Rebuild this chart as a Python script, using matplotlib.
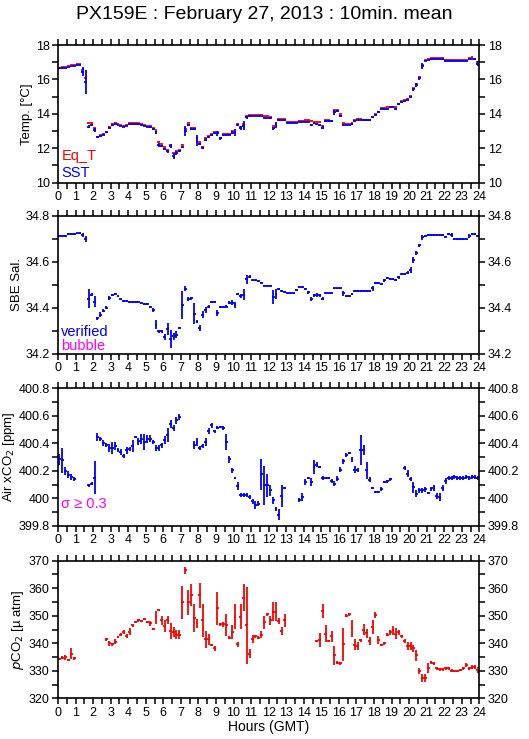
import numpy as np
import matplotlib
matplotlib.use("Agg")
import matplotlib.pyplot as plt
from matplotlib.ticker import MultipleLocator

plt.rcParams['font.family'] = ['Liberation Sans', 'DejaVu Sans']

nan = np.nan

# 10-minute slots over the day (144 slots)
hours = np.arange(144) / 6 + 1 / 12

sst = [
    16.64, 16.64, 16.64, 16.72, 16.78, 16.80,
    16.84, 16.84, 16.45, 15.85, 13.25, 13.35,
    13.06, 12.63, 12.70, 12.80, 12.92, 13.20,
    13.35, 13.40, 13.35, 13.30, 13.25, 13.30,
    13.40, 13.40, 13.40, 13.40, 13.35, 13.30,
    13.25, 13.22, 13.10, 12.92, 12.20, 12.13,
    11.97, 11.82, 12.15, 11.55, 11.72, 11.82,
    12.05, 13.00, 13.35, 13.10, 13.10, 12.45,
    12.25, 12.00, 12.50, 12.63, 12.75, 12.86,
    12.86, 12.57, 12.77, 12.77, 12.80, 12.90,
    12.93, 13.37, 13.18, 13.32, 13.80, 13.87,
    13.87, 13.87, 13.87, 13.87, 13.77, 13.77,
    13.75, 13.15, 13.35, 13.64, 13.64, 13.64,
    13.48, 13.48, 13.48, 13.48, 13.54, 13.54,
    13.54, 13.54, 13.35, 13.45, 13.40, 13.35,
    13.20, 13.58, 13.58, 13.58, 14.10, 14.15,
    13.87, 13.35, 13.35, 13.35, 13.40, 13.58,
    13.64, 13.64, 13.62, 13.62, 13.62, 13.80,
    13.93, 14.12, 14.26, 14.26, 14.30, 14.38,
    14.38, 14.30, 14.57, 14.68, 14.76, 14.80,
    14.96, 15.42, 15.67, 16.06, 16.78, 17.09,
    17.12, 17.17, 17.17, 17.17, 17.17, 17.17,
    17.09, 17.09, 17.09, 17.09, 17.09, 17.09,
    17.09, 17.09, 17.19, 17.19, 17.17, 16.92,
]
sst_sd = [
    .02, .02, .02, .02, .02, .02,
    .02, .02, .25, .70, .10, .05,
    .12, .03, .03, .03, .03, .03,
    .03, .02, .02, .02, .02, .02,
    .02, .02, .02, .02, .02, .02,
    .02, .02, .04, .08, .12, .05,
    .06, .08, .12, .20, .12, .06,
    .05, .30, .08, .04, .04, .30,
    .06, .05, .08, .05, .04, .04,
    .12, .08, .03, .03, .04, .08,
    .20, .05, .10, .28, .10, .04,
    .02, .02, .02, .02, .04, .04,
    .04, .06, .15, .03, .03, .03,
    .02, .02, .02, .02, .02, .02,
    .02, .02, .05, .03, .05, .03,
    .08, .03, .03, .04, .15, .06,
    .08, .06, .02, .02, .02, .03,
    .03, .02, .02, .02, .02, .05,
    .04, .03, .03, .02, .02, .02,
    .02, .05, .04, .04, .04, .04,
    .06, .08, .10, .10, .20, .04,
    .02, .02, .02, .02, .02, .02,
    .02, .02, .02, .02, .02, .02,
    .02, .02, .02, .02, .03, .15,
]
eq_t = [
    16.68, 16.70, 16.72, 16.78, 16.82, 16.85,
    16.88, 16.88, 16.55, 16.10, 13.45, 13.45,
    13.15, 12.68, 12.75, 12.85, 12.97, 13.25,
    13.42, 13.48, 13.42, 13.36, 13.32, 13.38,
    13.45, 13.45, 13.45, 13.45, 13.40, 13.35,
    13.30, 13.30, 13.15, 13.05, 12.38, 12.22,
    12.05, 11.90, 12.20, 11.70, 11.85, 11.90,
    12.20, 13.10, 13.48, 13.20, 13.20, 12.60,
    12.35, 12.10, 12.58, 12.70, 12.82, 12.95,
    12.95, 12.62, 12.85, 12.85, 12.85, 13.00,
    13.02, 13.42, 13.25, 13.40, 13.88, 13.92,
    13.92, 13.92, 13.92, 13.92, 13.85, 13.85,
    13.82, 13.30, 13.40, 13.68, 13.68, 13.68,
    13.55, 13.55, 13.52, 13.52, 13.60, 13.60,
    13.62, 13.62, 13.60, 13.50, 13.55, 13.50,
    13.28, 13.62, 13.62, 13.58, 14.20, 14.22,
    14.00, 13.45, 13.40, 13.40, 13.48, 13.65,
    13.72, 13.72, 13.65, 13.65, 13.65, 13.82,
    14.00, 14.12, 14.32, 14.35, 14.42, 14.42,
    14.42, 14.38, 14.60, 14.72, 14.80, 14.88,
    15.02, 15.48, 15.72, 16.12, 16.85, 17.12,
    17.18, 17.22, 17.22, 17.22, 17.22, 17.22,
    17.15, 17.15, 17.10, 17.10, 17.10, 17.10,
    17.10, 17.10, 17.22, 17.28, 17.20, 17.00,
]
eq_t_sd = [.02] * 8 + [.10, .10, .05] + [.02] * 27 + [.05] + [.02] * 4 + [.05, .04, .02, .02, .08] + [.02] * 96

sal = [
    34.713, 34.713, 34.713, 34.722, 34.722, 34.722,
    34.725, 34.725, 34.717, 34.700, 34.440, 34.457,
    34.427, 34.355, 34.370, 34.387, 34.400, 34.442,
    34.457, 34.460, 34.450, 34.437, 34.430, 34.430,
    34.425, 34.425, 34.425, 34.427, 34.420, 34.416,
    34.416, 34.403, 34.390, 34.326, 34.297, 34.297,
    34.272, 34.308, 34.265, 34.275, 34.283, 34.312,
    34.413, 34.483, 34.437, 34.442, 34.374, 34.340,
    34.312, 34.370, 34.390, 34.405, 34.427, 34.427,
    34.377, 34.405, 34.405, 34.405, 34.423, 34.423,
    34.413, 34.460, 34.452, 34.457, 34.525, 34.536,
    34.519, 34.519, 34.517, 34.510, 34.497, 34.497,
    34.497, 34.446, 34.460, 34.483, 34.475, 34.470,
    34.463, 34.463, 34.463, 34.478, 34.490, 34.490,
    34.483, 34.468, 34.437, 34.455, 34.455, 34.455,
    34.440, 34.463, 34.463, 34.463, 34.485, 34.485,
    34.485, 34.463, 34.452, 34.452, 34.460, 34.474,
    34.474, 34.474, 34.474, 34.474, 34.474, 34.485,
    34.507, 34.507, 34.504, 34.520, 34.530, 34.525,
    34.525, 34.520, 34.533, 34.548, 34.548, 34.553,
    34.565, 34.609, 34.638, 34.672, 34.707, 34.714,
    34.717, 34.717, 34.717, 34.717, 34.717, 34.717,
    34.710, 34.722, 34.716, 34.699, 34.699, 34.699,
    34.699, 34.699, 34.713, 34.720, 34.720, 34.713,
]
sal_sd = [
    .003, .003, .003, .003, .003, .003,
    .003, .003, .008, .012, .040, .006,
    .025, .006, .012, .006, .006, .010,
    .005, .004, .003, .003, .003, .003,
    .003, .003, .003, .003, .003, .003,
    .003, .005, .008, .020, .005, .005,
    .012, .025, .040, .015, .015, .006,
    .060, .010, .008, .006, .045, .006,
    .012, .015, .012, .006, .004, .004,
    .012, .004, .004, .006, .006, .012,
    .012, .006, .010, .025, .020, .005,
    .003, .003, .003, .003, .003, .003,
    .003, .030, .020, .005, .004, .004,
    .003, .003, .003, .006, .003, .003,
    .004, .006, .008, .006, .010, .006,
    .008, .003, .003, .003, .003, .003,
    .003, .010, .003, .003, .003, .003,
    .003, .003, .003, .003, .003, .010,
    .004, .004, .004, .006, .004, .004,
    .004, .004, .006, .004, .004, .006,
    .012, .012, .010, .006, .010, .004,
    .003, .003, .003, .003, .003, .003,
    .003, .005, .008, .003, .003, .003,
    .003, .003, .008, .004, .004, .006,
]

air_co2 = [
    400.284, 400.277, 400.197, 400.173, 400.156, 400.144,
    nan, nan, nan, nan, 400.095, 400.108,
    400.151, 400.446, 400.430, 400.403, 400.386, 400.367,
    400.367, 400.379, 400.354, 400.338, 400.308, 400.350,
    400.357, 400.379, 400.446, 400.415, 400.434, 400.410,
    400.434, 400.434, 400.410, 400.367, 400.367, 400.386,
    400.427, 400.459, 400.543, 400.512, 400.568, 400.592,
    nan, nan, nan, nan, 400.386, 400.410,
    400.369, 400.380, 400.410, 400.490, 400.531, 400.488,
    400.514, 400.519, 400.514, 400.410, 400.284, 400.204,
    400.149, 400.090, 400.023, 400.023, 400.023, 400.010,
    399.979, 399.950, 399.962, 400.175, 400.095, 400.095,
    400.059, 399.986, 399.921, 399.882, 400.018, 400.076,
    nan, nan, nan, nan, 399.991, 400.010,
    400.120, 400.149, 400.120, 400.229, 400.246, 400.229,
    400.151, 400.149, 400.149, 400.124, 400.108, 400.144,
    400.209, 400.270, 400.313, 400.330, 400.284, 400.209,
    400.204, 400.354, 400.354, 400.204, 400.137, 400.076,
    400.047, 400.047, 400.066, 400.120, 400.124, 400.139,
    nan, nan, nan, nan, 400.221, 400.180,
    400.139, 400.083, 400.035, 400.059, 400.059, 400.066,
    400.040, 400.066, 400.076, 400.018, 400.010, 400.076,
    400.127, 400.149, 400.149, 400.155, 400.149, 400.149,
    400.150, 400.155, 400.150, 400.158, 400.155, 400.150,
]
air_sd = [
    .040, .090, .030, .025, .020, .015,
    nan, nan, nan, nan, .010, .010,
    .120, .030, .015, .025, .015, .030,
    .045, .030, .015, .020, .015, .025,
    .015, .045, .010, .025, .035, .060,
    .030, .025, .015, .020, .020, .020,
    .030, .050, .030, .020, .025, .020,
    nan, nan, nan, nan, .030, .030,
    .015, .015, .030, .025, .020, .010,
    .010, .010, .015, .060, .025, .020,
    .010, .030, .015, .015, .015, .015,
    .020, .030, .020, .110, .140, .085,
    .040, .025, .015, .040, .080, .010,
    nan, nan, nan, nan, .015, .030,
    .020, .010, .030, .050, .020, .010,
    .015, .010, .010, .015, .020, .020,
    .020, .020, .015, .010, .020, .025,
    .015, .110, .035, .060, .020, .010,
    .010, .010, .015, .010, .010, .010,
    nan, nan, nan, nan, .015, .025,
    .015, .040, .025, .020, .020, .020,
    .010, .015, .020, .025, .030, .020,
    .020, .015, .015, .015, .015, .015,
    .015, .015, .015, .015, .015, .015,
]

pco2 = [
    334.2, 334.8, 334.9, 333.9, 336.2, 334.5,
    nan, nan, nan, nan, nan, nan,
    nan, nan, nan, nan, 341.4, 340.0,
    339.6, 340.6, 342.2, 343.2, 344.2, 342.6,
    344.2, 346.5, 347.8, 348.3, 348.1, 348.7,
    347.6, 347.2, 345.2, 349.4, 352.1, 348.3,
    346.4, 348.5, 344.5, 344.0, 343.2, 343.2,
    354.9, 366.5, 354.9, 357.4, 349.1, 347.2,
    357.4, 348.3, 341.4, 341.4, 339.4, 338.2,
    352.7, 346.9, 346.9, 346.6, 342.0, 344.0,
    349.7, 339.6, 349.7, 356.6, 346.6, 336.3,
    341.5, 342.5, 342.0, 343.2, 347.6, 350.5,
    348.3, 351.5, 351.5, 348.1, 344.5, 348.3,
    nan, nan, nan, nan, nan, nan,
    nan, nan, nan, nan, 340.8, 341.1,
    351.8, 343.5, 340.8, 342.5, 335.7, 333.0,
    332.7, 339.6, 350.0, 350.6, 345.4, 339.4,
    339.1, 341.1, 344.9, 343.6, 340.8, 345.8,
    350.3, 341.1, 339.4, 340.0, 343.2, 344.0,
    344.7, 343.4, 344.0, 342.5, 340.8, 339.1,
    339.1, 338.2, 335.7, 330.0, 327.3, 327.5,
    330.9, 333.1, 332.7, 330.9, 330.5, 330.5,
    330.9, 330.9, 330.0, 330.0, 330.0, 330.3,
    330.9, 332.1, 330.9, 331.3, 331.3, 330.3,
]
pco2_sd = [
    0.4, 0.5, 0.8, 0.4, 2.0, 0.5,
    nan, nan, nan, nan, nan, nan,
    nan, nan, nan, nan, 0.5, 1.0,
    0.6, 0.8, 0.4, 0.4, 0.8, 0.8,
    1.2, 0.6, 0.4, 0.4, 0.4, 0.4,
    0.4, 0.8, 0.5, 2.5, 0.5, 1.8,
    2.2, 1.5, 3.0, 1.8, 1.5, 1.5,
    6.0, 1.2, 4.5, 4.0, 5.0, 1.5,
    4.5, 6.0, 3.0, 2.0, 0.5, 1.0,
    6.0, 0.5, 1.0, 4.0, 0.5, 2.5,
    4.5, 1.0, 4.5, 5.0, 14.0, 1.8,
    1.5, 0.5, 0.5, 1.2, 2.5, 0.5,
    1.5, 3.5, 3.5, 1.0, 1.5, 2.5,
    nan, nan, nan, nan, nan, nan,
    nan, nan, nan, nan, 0.5, 2.5,
    2.5, 3.0, 0.5, 2.0, 3.5, 0.5,
    0.5, 6.0, 0.5, 0.5, 3.0, 2.0,
    1.5, 0.5, 2.0, 1.5, 1.5, 2.5,
    1.0, 1.5, 0.5, 0.5, 0.5, 1.0,
    1.5, 2.0, 1.0, 0.6, 0.6, 1.5,
    1.5, 1.2, 2.0, 1.2, 1.5, 1.5,
    1.8, 0.5, 0.5, 0.5, 0.4, 0.4,
    0.6, 0.5, 0.5, 0.4, 0.4, 0.4,
    0.5, 0.6, 0.6, 0.8, 0.8, 1.2,
]

BLUE = '#0000ff'
RED = '#ff0000'
MAGENTA = '#ff00ff'


def draw(ax, y, err, color):
    y = np.asarray(y, dtype=float)
    err = np.asarray(err, dtype=float)
    ok = ~np.isnan(y)
    ax.errorbar(hours[ok], y[ok], xerr=1 / 12, yerr=err[ok], fmt='none',
                ecolor=color, elinewidth=1.3, capsize=0)


def style(ax, ylim, major, minor, fmt):
    ax.set_xlim(0, 24)
    ax.set_ylim(*ylim)
    ax.xaxis.set_major_locator(MultipleLocator(1))
    ax.xaxis.set_minor_locator(MultipleLocator(0.5))
    ax.yaxis.set_major_locator(MultipleLocator(major))
    ax.yaxis.set_minor_locator(MultipleLocator(minor))
    ax.yaxis.set_major_formatter(fmt)
    ax.tick_params(which='both', direction='out', top=True, right=True,
                   labelright=True, length=4, width=1.1, labelsize=9, pad=2)
    for s in ax.spines.values():
        s.set_linewidth(1.2)


fig = plt.figure(figsize=(5.29, 7.39), dpi=100)
W = 421.3 / 529
H = 137.7 / 739
L = 58 / 529
tops = [45, 216, 388.3, 560.7]
axes = [fig.add_axes([L, 1 - (t + 137.7) / 739, W, H]) for t in tops]

ax1, ax2, ax3, ax4 = axes

draw(ax1, eq_t, eq_t_sd, RED)
draw(ax1, sst, sst_sd, BLUE)
style(ax1, (10, 18), 2, 1, lambda v, p: f'{v:g}')
ax1.set_ylabel('Temp. [°C]', fontsize=9.5, labelpad=2)
ax1.text(0.008, 0.165, 'Eq_T', color=RED, fontsize=10.5, transform=ax1.transAxes)
ax1.text(0.008, 0.04, 'SST', color=BLUE, fontsize=10.5, transform=ax1.transAxes)

draw(ax2, sal, sal_sd, BLUE)
style(ax2, (34.2, 34.8), 0.2, 0.1, lambda v, p: f'{v:.1f}')
ax2.set_ylabel('SBE Sal.', fontsize=9.5, labelpad=2)
ax2.text(0.008, 0.13, 'verified', color=BLUE, fontsize=10.5, transform=ax2.transAxes)
ax2.text(0.008, 0.025, 'bubble', color=MAGENTA, fontsize=10.5, transform=ax2.transAxes)

draw(ax3, air_co2, air_sd, BLUE)
style(ax3, (399.8, 400.8), 0.2, 0.1, lambda v, p: f'{v:g}')
ax3.set_ylabel('Air xCO$_2$ [ppm]', fontsize=9.5, labelpad=1)
ax3.text(0.008, 0.13, 'σ ≥ 0.3', color=MAGENTA, fontsize=10.5, transform=ax3.transAxes)

draw(ax4, pco2, pco2_sd, RED)
style(ax4, (320, 370), 10, 5, lambda v, p: f'{v:g}')
ax4.set_ylabel('$p$CO$_2$ [µ atm]', fontsize=9.5, labelpad=2)
ax4.set_xlabel('Hours (GMT)', fontsize=10, labelpad=1)

fig.text(0.5, 0.981, 'PX159E : February 27, 2013 : 10min. mean',
         ha='center', va='center', fontsize=14)

fig.savefig('out.png', dpi=100)
